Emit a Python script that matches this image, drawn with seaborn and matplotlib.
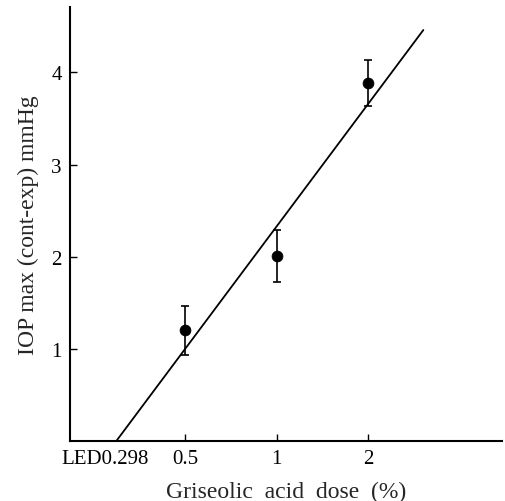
import matplotlib
matplotlib.use("Agg")
import matplotlib.pyplot as plt
import matplotlib.transforms as mtransforms
import seaborn as sns
import pandas as pd
import numpy as np

# Data
dose = [0.5, 1, 2]
iop = [1.2, 2.01, 3.89]
err = [0.27, 0.28, 0.25]
fit_dose = [0.298, 3.03]
fit_iop = [0.0, 4.46]
x_ticks = [0.298, 0.5, 1, 2]
x_ticklabels = ["LED0.298", "0.5", "1", "2"]
y_ticks = [1, 2, 3, 4]

sns.set_style("ticks")
plt.rcParams["font.family"] = ["Liberation Serif", "DejaVu Serif"]
plt.rcParams["mathtext.fontset"] = "stix"

fig = plt.figure(figsize=(5.05, 5.02), dpi=100)
ax = fig.add_axes([70 / 505, 1 - 442 / 502, 432 / 505, 434 / 502])

df_pts = pd.DataFrame({"dose": dose, "iop": iop})
df_fit = pd.DataFrame({"dose": fit_dose, "iop": fit_iop})

sns.lineplot(data=df_fit, x="dose", y="iop", ax=ax, color="black", linewidth=1.3)
ax.errorbar(dose, iop, yerr=err, fmt="none", ecolor="black", elinewidth=1.2,
            capsize=3, capthick=1.2)
sns.scatterplot(data=df_pts, x="dose", y="iop", ax=ax, color="black", s=60,
                edgecolor="black", zorder=5)

ax.set_xscale("log")
ax.set_xlim(0.21, 5.49)
ax.set_ylim(0, 4.71)
ax.set_xticks(x_ticks)
ax.set_xticklabels(x_ticklabels)
ax.minorticks_off()
ax.set_yticks(y_ticks)
ax.set_yticklabels([str(v) for v in y_ticks])

ax.tick_params(axis="both", direction="in", length=5, width=1, labelsize=15,
               colors="black", pad=6)
ax.xaxis.get_major_ticks()[0].tick1line.set_visible(False)
# shift LED label slightly left
lbl = ax.get_xticklabels()[0]
lbl.set_transform(lbl.get_transform() + mtransforms.ScaledTranslation(-11 / 100, 0, fig.dpi_scale_trans))

for s in ["top", "right"]:
    ax.spines[s].set_visible(False)
for s in ["left", "bottom"]:
    ax.spines[s].set_linewidth(1.5)
    ax.spines[s].set_color("black")

ax.set_xlabel("Griseolic  acid  dose  (%)", fontsize=17, labelpad=9)
ax.set_ylabel("IOP max (cont-exp) mmHg", fontsize=17, labelpad=9)

fig.savefig("out.png", dpi=100)
